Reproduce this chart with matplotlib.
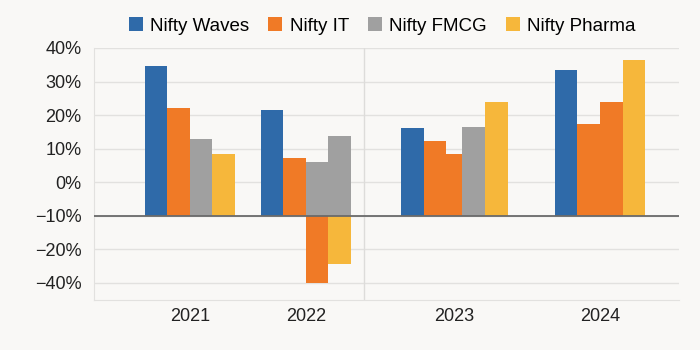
"""
plot.py — Nifty index yearly returns, grouped bars
"""
import matplotlib.pyplot as plt
from matplotlib.patches import Patch

plt.rcParams["font.family"] = ["Liberation Sans", "DejaVu Sans"]

BG = "#f9f8f6"
COLORS = {
    "Nifty Waves": "#2f6aa9",
    "Nifty IT": "#f07a26",
    "Nifty FMCG": "#a0a0a0",
    "Nifty Pharma": "#f6b73b",
}

years = ["2021", "2022", "2023", "2024"]
series = ["Nifty Waves", "Nifty IT", "Nifty FMCG", "Nifty Pharma"]

# bars per year, as drawn (series, top value on the axis scale)
bars_2021 = [("Nifty Waves", 34.5), ("Nifty IT", 22.0), ("Nifty FMCG", 12.8), ("Nifty Pharma", 8.3)]
bars_2022 = [("Nifty Waves", 21.6), ("Nifty IT", 7.1), ("Nifty FMCG", 6.0), ("Nifty FMCG", 13.7)]
bars_2023 = [("Nifty Waves", 16.1), ("Nifty IT", 12.3), ("Nifty IT", 8.3), ("Nifty FMCG", 16.4), ("Nifty Pharma", 23.8)]
bars_2024 = [("Nifty Waves", 33.5), ("Nifty IT", 17.3), ("Nifty IT", 23.8), ("Nifty Pharma", 36.5)]
# negative bars in 2022 (slot index, series, value)
neg_2022 = [(2, "Nifty IT", -30.0), (3, "Nifty Pharma", -24.3)]

ytick_vals = [40, 30, 20, 10, 0, -10, -20, -30]
ytick_labels = ["40%", "30%", "20%", "10%", "0%", "\u221210%", "\u221220%", "\u221240%"]
BASE = -10

# layout: left edge of each group and bar widths (in bar units)
group_left = [2.27, 7.42, 13.64, 20.49]
widths = [[1, 1, 1, 1], [1, 1, 1, 1], [1.03, 0.97, 0.72, 1.02, 1.02], [1, 1, 1, 1]]

fig = plt.figure(figsize=(7, 3.5), dpi=100, facecolor=BG)
ax = fig.add_axes([0.134, 0.143, 0.836, 0.720], facecolor=BG)

all_bars = [bars_2021, bars_2022, bars_2023, bars_2024]
centers = []
for g, (left, bars, ws) in enumerate(zip(group_left, all_bars, widths)):
    x = left
    lefts = []
    for (name, val), w in zip(bars, ws):
        ax.bar(x, val - BASE, bottom=BASE, width=w, align="edge",
               color=COLORS[name], zorder=3)
        lefts.append(x)
        x += w
    centers.append((left + x) / 2)
    if years[g] == "2022":
        for slot, name, val in neg_2022:
            ax.bar(lefts[slot], val - BASE, bottom=BASE, width=ws[slot],
                   align="edge", color=COLORS[name], zorder=3)

# grid, baseline, separator
for v in ytick_vals:
    ax.axhline(v, color="#e2e1df", lw=1.0, zorder=1)
ax.axhline(BASE, color="#6a6a6a", lw=1.3, zorder=4)
ax.axvline(12.0, color="#dddcda", lw=1.0, zorder=1)

ax.set_xlim(0, 26)
ax.set_ylim(-35.1, 40)
ax.set_yticks(ytick_vals)
ax.set_yticklabels(ytick_labels, fontsize=13, color="#222222")
ax.set_xticks(centers)
ax.set_xticklabels(years, fontsize=13, color="#222222")
ax.tick_params(length=0, pad=9)
ax.tick_params(axis="x", pad=6)

for side in ["top", "right"]:
    ax.spines[side].set_visible(False)
ax.spines["left"].set_color("#e2e1df")
ax.spines["bottom"].set_color("#e2e1df")

handles = [Patch(facecolor=COLORS[s], label=s) for s in series]
fig.legend(handles=handles, loc="center", bbox_to_anchor=(0.546, 0.926), ncol=4,
           frameon=False, fontsize=13.5, handlelength=0.75, handleheight=0.75,
           handletextpad=0.4, columnspacing=1.0)

plt.savefig("out.png", dpi=100, facecolor=BG)
plt.close()
